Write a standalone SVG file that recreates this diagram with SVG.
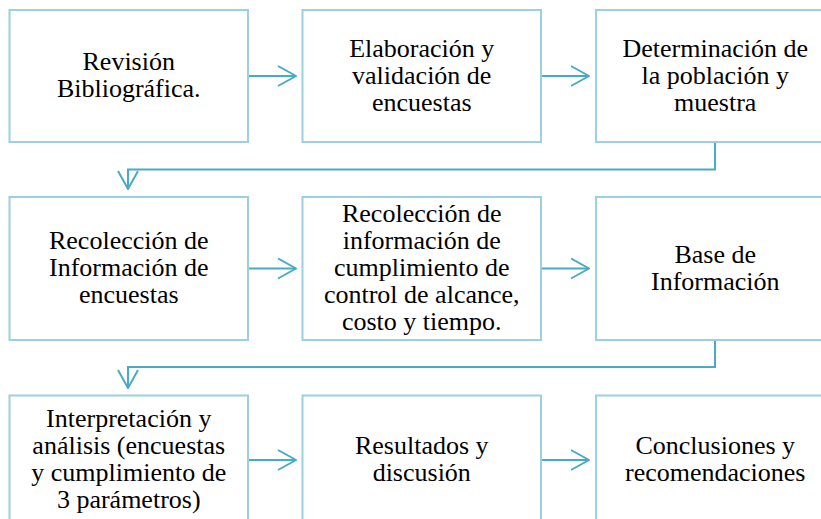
<svg xmlns="http://www.w3.org/2000/svg" width="821" height="519" viewBox="0 0 821 519">
<style>
.box{fill:#fff;stroke:#9ccfe0;stroke-width:2}
.con{fill:none;stroke:#4aaac6;stroke-width:2}
text{font-family:'Liberation Serif','Times New Roman',serif;font-size:26px;fill:#000;text-anchor:middle}
</style>
<defs>
<marker id="ah" viewBox="0 0 20 22" refX="19" refY="11" markerWidth="20" markerHeight="22" markerUnits="userSpaceOnUse" orient="auto">
<polyline points="1,1 19,11 1,21" fill="none" stroke="#4aaac6" stroke-width="2"/>
</marker>
</defs>
<rect width="821" height="519" fill="#fff"/>
<g id="connectors">
<line class="con" x1="248" y1="76" x2="296" y2="76" marker-end="url(#ah)"/>
<line class="con" x1="541" y1="76" x2="589" y2="76" marker-end="url(#ah)"/>
<polyline class="con" points="715,142 715,169.5 128,169.5 128,189" marker-end="url(#ah)"/>
<line class="con" x1="248" y1="268.5" x2="296" y2="268.5" marker-end="url(#ah)"/>
<line class="con" x1="541" y1="268.5" x2="589" y2="268.5" marker-end="url(#ah)"/>
<polyline class="con" points="715,340 715,367 128,367 128,388" marker-end="url(#ah)"/>
<line class="con" x1="248" y1="460" x2="296" y2="460" marker-end="url(#ah)"/>
<line class="con" x1="541" y1="460" x2="589" y2="460" marker-end="url(#ah)"/>
</g>
<g id="n1"><rect class="box" x="9.5" y="10" width="238.5" height="132"/>
<text><tspan x="128.75" y="70">Revisión</tspan><tspan x="128.75" y="97">Bibliográfica.</tspan></text></g>
<g id="n2"><rect class="box" x="302.5" y="10" width="238.5" height="132"/>
<text><tspan x="421.75" y="56.5">Elaboración y</tspan><tspan x="421.75" y="83.5">validación de</tspan><tspan x="421.75" y="110.5">encuestas</tspan></text></g>
<g id="n3"><rect class="box" x="596" y="10" width="238.5" height="132"/>
<text><tspan x="715.25" y="56.5">Determinación de</tspan><tspan x="715.25" y="83.5">la población y</tspan><tspan x="715.25" y="110.5">muestra</tspan></text></g>
<g id="n4"><rect class="box" x="9.5" y="197" width="238.5" height="143"/>
<text><tspan x="128.75" y="249">Recolección de</tspan><tspan x="128.75" y="276">Información de</tspan><tspan x="128.75" y="303">encuestas</tspan></text></g>
<g id="n5"><rect class="box" x="302.5" y="197" width="238.5" height="143"/>
<text><tspan x="421.75" y="222">Recolección de</tspan><tspan x="421.75" y="249">información de</tspan><tspan x="421.75" y="276">cumplimiento de</tspan><tspan x="421.75" y="303">control de alcance,</tspan><tspan x="421.75" y="330">costo y tiempo.</tspan></text></g>
<g id="n6"><rect class="box" x="596" y="197" width="238.5" height="143"/>
<text><tspan x="715.25" y="262.5">Base de</tspan><tspan x="715.25" y="289.5">Información</tspan></text></g>
<g id="n7"><rect class="box" x="9.5" y="395.5" width="238.5" height="132"/>
<text><tspan x="128.75" y="427">Interpretación y</tspan><tspan x="128.75" y="454">análisis (encuestas</tspan><tspan x="128.75" y="481">y cumplimiento de</tspan><tspan x="128.75" y="508">3 parámetros)</tspan></text></g>
<g id="n8"><rect class="box" x="302.5" y="395.5" width="238.5" height="132"/>
<text><tspan x="421.75" y="454">Resultados y</tspan><tspan x="421.75" y="481">discusión</tspan></text></g>
<g id="n9"><rect class="box" x="596" y="395.5" width="238.5" height="132"/>
<text><tspan x="715.25" y="454">Conclusiones y</tspan><tspan x="715.25" y="481">recomendaciones</tspan></text></g>
</svg>
